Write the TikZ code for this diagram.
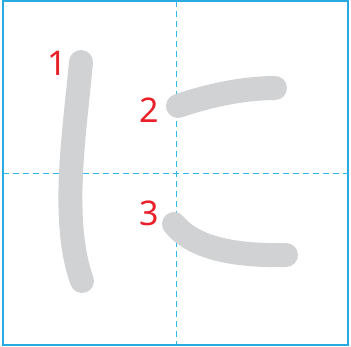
\documentclass[tikz,border=0pt]{standalone}
\usepackage{fontspec}
\setmainfont{Noto Sans}
\usetikzlibrary{positioning}
\definecolor{framebl}{HTML}{29ABE2}
\definecolor{guidebl}{HTML}{2EB8EE}
\definecolor{strokegr}{HTML}{D1D2D4}
\definecolor{numred}{HTML}{E8202A}

\begin{document}
\begin{tikzpicture}[
  x=1pt, y=-1pt,
  frame/.style={draw=framebl, line width=2pt},
  guide/.style={draw=guidebl, line width=1.2pt, dash pattern=on 6pt off 4pt},
  kstroke/.style={draw=strokegr, line width=24pt, line cap=round},
  num/.style={text=numred, font=\fontsize{34}{34}\selectfont, inner sep=0pt},
]
\useasboundingbox (0,0) rectangle (351,346);

% frame and guides
\draw[frame] (3,1) rectangle (348,345);
\draw[guide] (176.5,1) -- (176.5,345);
\draw[guide] (3,173.5) -- (348,173.5);

% strokes
\draw[kstroke] (81,62) .. controls (75,130) and (60,220) .. (82,281);
\draw[kstroke] (178,106) .. controls (210,95) and (245,88) .. (275,88);
\draw[kstroke] (174,224) .. controls (195,250) and (240,256) .. (286,255);

% stroke numbers
\node[num] (n1) at (57,63) {1};
\node[num] (n2) at (149,110) {2};
\node[num] (n3) at (149,213) {3};

\end{tikzpicture}
\end{document}
